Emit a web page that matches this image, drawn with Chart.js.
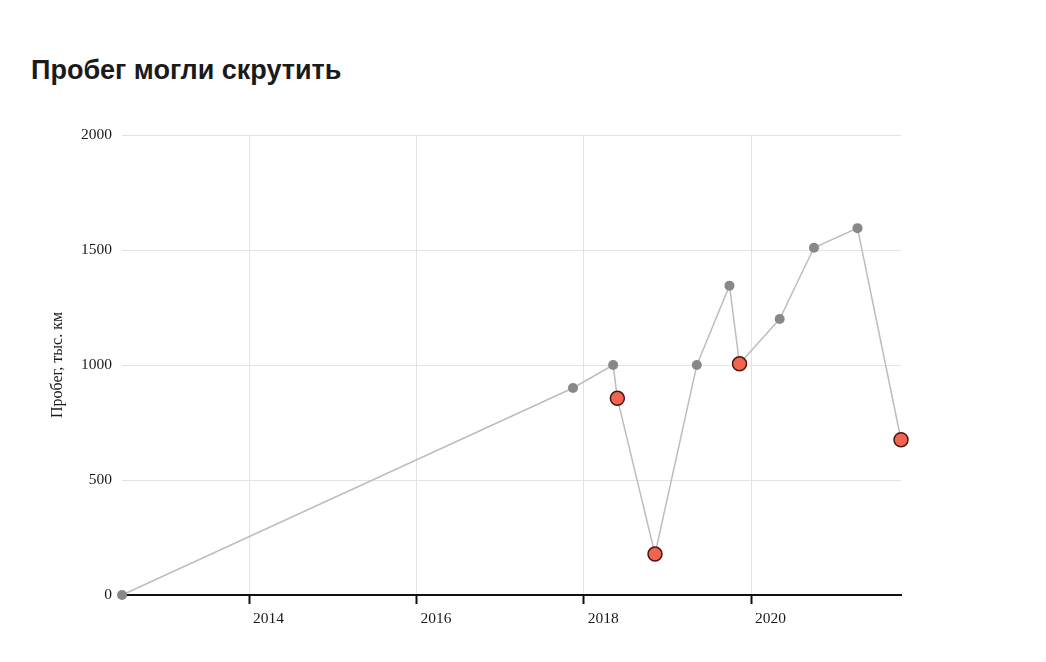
<!DOCTYPE html>
<html>
<head>
<meta charset="utf-8">
<script src="https://cdn.jsdelivr.net/npm/chart.js@4/dist/chart.umd.min.js"></script>
<style>
  html, body { margin: 0; padding: 0; background: #fff; }
  #wrap { position: relative; width: 1046px; height: 662px; }
  #title { position: absolute; left: 31px; top: 54px; font-family: "Liberation Sans", Arial, sans-serif; font-weight: bold; font-size: 27px; line-height: 32px; color: #1a1a1a; }
  canvas { position: absolute; left: 0; top: 0; }
</style>
</head>
<body>
<div id="wrap">
  <div id="title">Пробег могли скрутить</div>
  <canvas id="c" width="1046" height="662"></canvas>
</div>
<script>
// Dates as decimal years
const dates = [2012.48, 2017.87, 2018.35, 2018.40, 2018.85, 2019.35, 2019.74, 2019.86, 2020.34, 2020.75, 2021.27, 2021.79];
// Mileage, thousand km
const mileage = [0, 900, 1000, 855, 178, 1000, 1345, 1005, 1200, 1510, 1595, 675];
// Suspicious (mileage decreased)
const suspicious = [false, false, false, true, true, false, false, true, false, false, false, true];
const xTicks = [2014, 2016, 2018, 2020];
const yTicks = [0, 500, 1000, 1500, 2000];

const points = dates.map((d, i) => ({ x: d, y: mileage[i] }));
const serif = "'Liberation Serif', 'Times New Roman', serif";

new Chart(document.getElementById('c'), {
  type: 'line',
  data: {
    datasets: [{
      data: points,
      borderColor: '#bdbdbd',
      borderWidth: 1.5,
      tension: 0,
      clip: false,
      pointRadius: suspicious.map(s => s ? 7 : 5),
      pointBackgroundColor: suspicious.map(s => s ? '#f06450' : '#888888'),
      pointBorderColor: suspicious.map(s => s ? '#4a1810' : '#888888'),
      pointBorderWidth: suspicious.map(s => s ? 1.5 : 0),
      pointHoverRadius: suspicious.map(s => s ? 7 : 5)
    }]
  },
  options: {
    responsive: false,
    animation: false,
    layout: { padding: { left: 0, right: 145, top: 135, bottom: 27 } },
    plugins: { legend: { display: false }, tooltip: { enabled: false }, title: { display: false } },
    scales: {
      x: {
        type: 'linear',
        min: dates[0],
        max: dates[dates.length - 1],
        afterFit: s => { s.height = 40; },
        afterBuildTicks: s => { s.ticks = xTicks.map(v => ({ value: v })); },
        border: { display: true, color: '#111', width: 2 },
        grid: { color: '#e3e3e3', lineWidth: 1, drawTicks: true, tickLength: 9, tickColor: '#111', tickWidth: 2 },
        ticks: { align: 'start', padding: 6, color: '#1a1a1a', font: { family: serif, size: 15.5 }, callback: v => ' ' + String(v) }
      },
      y: {
        min: 0,
        max: 2000,
        afterFit: s => { s.width = 122; },
        afterBuildTicks: s => { s.ticks = yTicks.map(v => ({ value: v })); },
        border: { display: false },
        grid: { color: '#e3e3e3', lineWidth: 1, drawTicks: false },
        ticks: { padding: 10, color: '#1a1a1a', font: { family: serif, size: 15.5 }, callback: v => String(v) },
        title: { display: true, text: 'Пробег, тыс. км', color: '#1a1a1a', font: { family: serif, size: 16 }, padding: { top: 48, bottom: 0 } }
      }
    }
  }
});
</script>
</body>
</html>
